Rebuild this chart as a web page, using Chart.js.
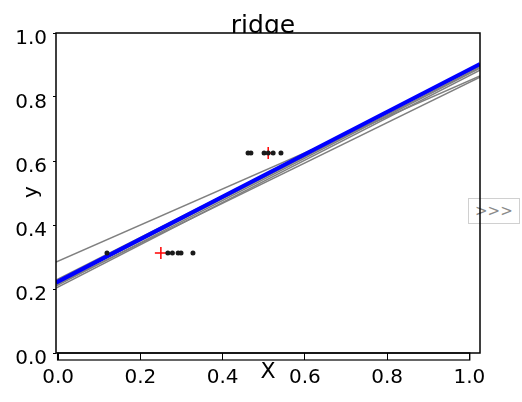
<!DOCTYPE html>
<html>
<head>
<meta charset="utf-8">
<script src="https://cdn.jsdelivr.net/npm/chart.js@4"></script>
<style>
  body { margin: 0; background: #fff; }
  #wrap { position: relative; width: 522px; height: 402px; }
  #myChart { position: absolute; left: 0; top: 0; z-index: 1; }
  #more {
    position: absolute; left: 468px; top: 198px; width: 50px; height: 24px;
    border: 1px solid #d0d0d0; color: #8a8a8a; z-index: 0;
    font: 15px "DejaVu Sans", sans-serif; line-height: 24px; text-indent: 6px;
  }
</style>
</head>
<body>
<div id="wrap">
  <div id="more">&gt;&gt;&gt;</div>
  <canvas id="myChart" width="522" height="402"></canvas>
</div>
<script>
// values (x on the 0..1 bottom scale, y on the 0..1 left scale)
const lineX = [-0.005, 1.026];
const blueY = [0.22, 0.903];
const grayY = [
  [0.284, 0.866],
  [0.209, 0.89],
  [0.203, 0.884],
  [0.228, 0.897],
  [0.213, 0.862],
  [0.216, 0.893],
];
const dotX = [0.119, 0.267, 0.278, 0.292, 0.299, 0.328, 0.462, 0.469, 0.501, 0.511, 0.523, 0.542];
const dotY = [0.3125, 0.3125, 0.3125, 0.3125, 0.3125, 0.3125, 0.625, 0.625, 0.625, 0.625, 0.625, 0.625];
const trainX = [0.25, 0.511];
const trainY = [0.3125, 0.625];
const xTicks = [0, 0.2, 0.4, 0.6, 0.8, 1.0];
const yTicks = [0, 0.2, 0.4, 0.6, 0.8, 1.0];

const FONT = "DejaVu Sans";

const pts = (xs, ys) => xs.map((x, i) => ({ x: x, y: ys[i] }));

const decor = {
  id: "decor",
  afterDraw(chart) {
    const ctx = chart.ctx;
    const a = chart.chartArea;
    const xs = chart.scales.x;
    ctx.save();
    ctx.strokeStyle = "#000";
    ctx.lineWidth = 1.5;
    ctx.strokeRect(a.left, a.top, a.right - a.left, a.bottom - a.top);

    // little strip axis under the plot
    const sl = xs.getPixelForValue(0) - 0.5;
    const sr = xs.getPixelForValue(1) + 0.5;
    ctx.lineWidth = 1.2;
    ctx.strokeRect(sl, a.bottom, sr - sl, 7);

    ctx.fillStyle = "#000";
    ctx.textAlign = "center";
    ctx.font = "22px '" + FONT + "'";
    ctx.textBaseline = "middle";
    ctx.fillText("X", 268, 372);

    ctx.save();
    ctx.translate(32, 192);
    ctx.rotate(-Math.PI / 2);
    ctx.font = "20px '" + FONT + "'";
    ctx.fillText("y", 0, 0);
    ctx.restore();

    // title, hidden below the frame top like the axes patch covers it
    ctx.beginPath();
    ctx.rect(0, 0, chart.width, a.top);
    ctx.clip();
    ctx.font = "25px '" + FONT + "'";
    ctx.textBaseline = "alphabetic";
    ctx.fillText("ridge", 263, 33);
    ctx.restore();
  },
};

const datasets = [
  {
    data: pts(dotX, dotY),
    backgroundColor: "#1a1a1a",
    borderColor: "#1a1a1a",
    pointRadius: 2.5,
    borderWidth: 0,
    showLine: false,
  },
  {
    data: pts(trainX, trainY),
    pointStyle: "cross",
    pointRadius: 6,
    borderColor: "#ff0000",
    borderWidth: 1.5,
    showLine: false,
  },
  {
    data: pts(lineX, blueY),
    borderColor: "#0000ff",
    borderWidth: 4,
    pointRadius: 0,
    showLine: true,
  },
];
grayY.forEach((ys) => {
  datasets.push({
    data: pts(lineX, ys),
    borderColor: "#808080",
    borderWidth: 1.5,
    pointRadius: 0,
    showLine: true,
  });
});

new Chart(document.getElementById("myChart"), {
  type: "scatter",
  data: { datasets: datasets },
  options: {
    responsive: false,
    animation: false,
    layout: { padding: { left: 0, top: 33, right: 42, bottom: 0 } },
    plugins: { legend: { display: false }, tooltip: { enabled: false }, title: { display: false } },
    scales: {
      x: {
        type: "linear",
        min: lineX[0],
        max: lineX[1],
        afterBuildTicks: (s) => { s.ticks = xTicks.map((v) => ({ value: v })); },
        afterFit: (s) => { s.height = 49; },
        border: { display: false },
        grid: { drawOnChartArea: false, tickLength: 7, color: "#000", lineWidth: 1 },
        ticks: {
          color: "#000",
          padding: 6,
          maxRotation: 0,
          font: { family: FONT, size: 20 },
          callback: (v) => v.toFixed(1),
        },
      },
      y: {
        type: "linear",
        min: 0,
        max: 1,
        afterBuildTicks: (s) => { s.ticks = yTicks.map((v) => ({ value: v })); },
        afterFit: (s) => { s.width = 56; },
        border: { display: false },
        grid: { drawOnChartArea: false, tickLength: 3, color: "#000", lineWidth: 1 },
        ticks: {
          color: "#000",
          padding: 6,
          labelOffset: 6,
          font: { family: FONT, size: 20 },
          callback: (v) => v.toFixed(1),
        },
      },
    },
  },
  plugins: [decor],
});
</script>
</body>
</html>
